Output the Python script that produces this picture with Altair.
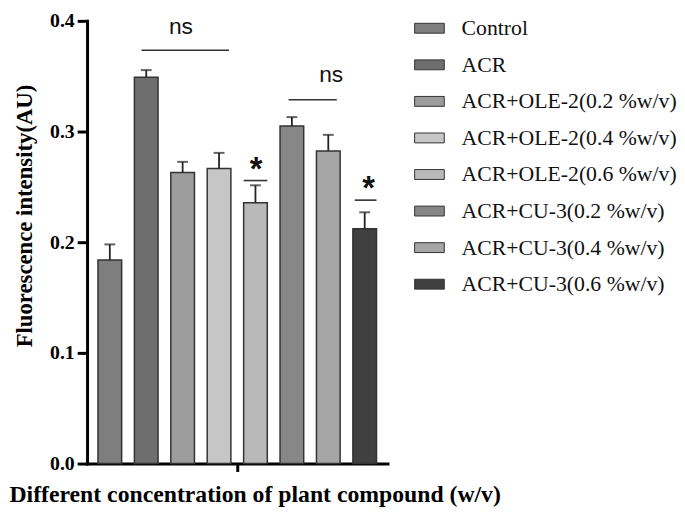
import altair as alt
import pandas as pd

categories = [
    "Control",
    "ACR",
    "ACR+OLE-2(0.2 %w/v)",
    "ACR+OLE-2(0.4 %w/v)",
    "ACR+OLE-2(0.6 %w/v)",
    "ACR+CU-3(0.2 %w/v)",
    "ACR+CU-3(0.4 %w/v)",
    "ACR+CU-3(0.6 %w/v)",
]
means = [0.184, 0.349, 0.263, 0.2665, 0.2357, 0.3049, 0.2825, 0.2121]
err_tops = [0.198, 0.3555, 0.2726, 0.2807, 0.2514, 0.313, 0.297, 0.227]
fills = ["#7e7e7e", "#6e6e6e", "#9c9c9c", "#c6c6c6", "#b9b9b9", "#878787", "#a6a6a6", "#404040"]

y_ticks = [0.0, 0.1, 0.2, 0.3, 0.4]

# significance annotations
ns_texts = ["ns", "ns"]
ns_line_y = [0.3734, 0.3287]
ns_text_y = [0.388, 0.345]
star_line_y = [0.2557, 0.238]
star_text_y = [0.2565, 0.239]

SERIF = "Liberation Serif"
SANS = "Liberation Sans"

df = pd.DataFrame({"cat": categories, "mean": means, "top": err_tops})

xscale = alt.Scale(domain=categories, paddingInner=0.35, paddingOuter=0.3)
yscale = alt.Scale(domain=[0, 0.4], nice=False)

y_axis = alt.Axis(
    values=y_ticks, format=".1f", grid=False,
    labelFont=SERIF, labelFontWeight="bold", labelFontSize=20, labelColor="black",
    labelPadding=3, tickSize=10, tickWidth=3, tickColor="black",
    domainWidth=3, domainColor="black", domainCap="square",
    title="Fluorescence intensity(AU)", titleFont=SERIF, titleFontWeight="bold",
    titleFontSize=23, titleColor="black", titleX=-63, titleY=197,
    titleAlign="center", titleBaseline="middle", titleAngle=270,
)

bars = alt.Chart(df).mark_bar(stroke="#333333", strokeWidth=1.5).encode(
    x=alt.X("cat:N", scale=xscale, axis=None),
    y=alt.Y("mean:Q", scale=yscale, axis=y_axis),
    color=alt.Color(
        "cat:N",
        scale=alt.Scale(domain=categories, range=fills),
        legend=alt.Legend(
            title=None, orient="none", legendX=331, legendY=-8,
            symbolType="M-1,-0.333H1V0.333H-1Z", symbolSize=900,
            symbolStrokeColor="#333333", symbolStrokeWidth=1, symbolOpacity=1,
            labelFont=SERIF, labelFontSize=22, labelColor="#111111",
            labelOffset=17, rowPadding=10, padding=0, labelLimit=400,
        ),
    ),
)

err_rule = alt.Chart(df).mark_rule(color="#222222", strokeWidth=1.8).encode(
    x=alt.X("cat:N", scale=xscale, axis=None),
    y=alt.Y("mean:Q", scale=yscale),
    y2="top:Q",
)
err_cap = alt.Chart(df).mark_tick(color="#222222", thickness=2, size=11).encode(
    x=alt.X("cat:N", scale=xscale, axis=None),
    y=alt.Y("top:Q", scale=yscale),
)


def ann_line(c1, bp1, c2, bp2, yv):
    d = pd.DataFrame({"c1": [c1], "c2": [c2], "y": [yv]})
    return alt.Chart(d).mark_rule(color="#333333", strokeWidth=1.6).encode(
        x=alt.X("c1:N", scale=xscale, axis=None, bandPosition=bp1),
        x2=alt.X2("c2", bandPosition=bp2),
        y=alt.Y("y:Q", scale=yscale),
    )


def ann_text(c, bp, yv, txt, font, size, weight):
    d = pd.DataFrame({"c": [c], "y": [yv], "t": [txt]})
    return alt.Chart(d).mark_text(
        font=font, fontSize=size, fontWeight=weight, color="#111111",
        align="center", baseline="alphabetic",
    ).encode(
        x=alt.X("c:N", scale=xscale, axis=None, bandPosition=bp),
        y=alt.Y("y:Q", scale=yscale),
        text="t:N",
    )


annotations = [
    ann_line(categories[1], 0.30, categories[3], 0.92, ns_line_y[0]),
    ann_line(categories[5], 0.36, categories[6], 0.86, ns_line_y[1]),
    ann_line(categories[4], 0.0, categories[4], 1.0, star_line_y[0]),
    ann_line(categories[7], 0.08, categories[7], 1.0, star_line_y[1]),
    ann_text(categories[2], 0.6, ns_text_y[0], ns_texts[0], SANS, 23, "normal"),
    ann_text(categories[6], 0.0, ns_text_y[1], ns_texts[1], SANS, 23, "normal"),
    ann_text(categories[4], 0.5, star_text_y[0], "*", SANS, 33, "bold"),
    ann_text(categories[7], 0.62, star_text_y[1], "*", SANS, 33, "bold"),
]

# single-group x axis (one centered tick, bold title)
gdf = pd.DataFrame({"group": ["all"], "v": [0.0]})
x_axis_layer = alt.Chart(gdf).mark_tick(opacity=0).encode(
    x=alt.X(
        "group:N",
        scale=alt.Scale(paddingInner=0, paddingOuter=0),
        axis=alt.Axis(
            labels=False, ticks=True, tickSize=8, tickWidth=3, tickColor="black",
            domainWidth=3, domainColor="black", domainCap="square",
            title="Different concentration of plant compound (w/v)",
            titleFont=SERIF, titleFontWeight="bold", titleFontSize=24, titleColor="black",
            titleX=-79, titleY=38, titleAlign="left", titleAnchor="start",
            titleBaseline="alphabetic",
        ),
    ),
    y=alt.Y("v:Q", scale=yscale),
)

chart = alt.layer(
    x_axis_layer, bars, err_rule, err_cap, *annotations
).resolve_scale(x="independent").properties(
    width=304, height=448,
    autosize=alt.AutoSizeParams(type="none"),
    padding={"left": 80, "top": 10, "right": 293, "bottom": 44},
).configure_view(stroke=None)

chart.save("out.html", embed_options={"renderer": "svg", "actions": False})
